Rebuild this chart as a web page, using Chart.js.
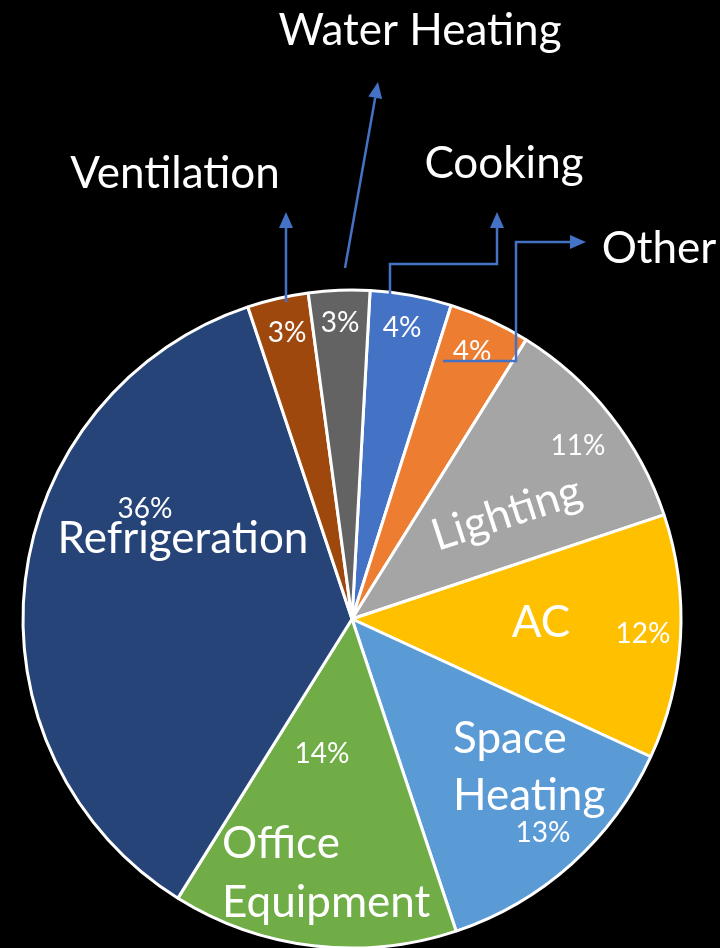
<!DOCTYPE html>
<html>
<head>
<meta charset="utf-8">
<script src="https://cdn.jsdelivr.net/npm/chart.js@4.4.1/dist/chart.umd.min.js"></script>
<style>
  html, body { margin: 0; padding: 0; background: #000; }
  canvas { display: block; }
</style>
</head>
<body>
<canvas id="c" width="720" height="948"></canvas>
<script>
// Data (clockwise from just right of 12 o'clock)
const categories = ["Cooking", "Other", "Lighting", "AC", "Space Heating", "Office Equipment", "Refrigeration", "Ventilation", "Water Heating"];
const shares = [4, 4, 11, 12, 13, 14, 36, 3, 3];
const percentLabels = ["4%", "4%", "11%", "12%", "13%", "14%", "36%", "3%", "3%"];
const sliceColors = ["#4472C4", "#ED7D31", "#A5A5A5", "#FFC000", "#5B9BD5", "#70AD47", "#264478", "#9E480E", "#636363"];

const FONT = "Lato, 'Open Sans', sans-serif";
const BIG = 44, SMALL = 28;
const ARROW = "#4472C4";

const texts = [
  {t: "Water Heating", x: 420, y: 45, s: BIG, a: "center"},
  {t: "Ventilation", x: 175, y: 188, s: BIG, a: "center"},
  {t: "Cooking", x: 504, y: 178, s: BIG, a: "center"},
  {t: "Other", x: 659, y: 263, s: BIG, a: "center"},
  {t: "Refrigeration", x: 183, y: 553, s: BIG, a: "center"},
  {t: "AC", x: 541, y: 637, s: BIG, a: "center"},
  {t: "Space", x: 453, y: 753, s: BIG, a: "left"},
  {t: "Heating", x: 453, y: 810, s: BIG, a: "left"},
  {t: "Office", x: 222, y: 858, s: BIG, a: "left"},
  {t: "Equipment", x: 222, y: 917, s: BIG, a: "left"},
  {t: "Lighting", x: 511, y: 527, s: BIG, a: "center", rot: -18},
];
const pctPos = [[402, 337], [472, 361], [578, 455], [643, 643], [543, 842], [322, 763], [145, 518], [287, 342], [340, 332]];

const arrows = [
  [[286, 302], [286, 212]],
  [[345, 268], [378, 82]],
  [[390, 295], [390, 264], [497, 264], [497, 212]],
  [[443, 361], [516, 361], [516, 242], [586, 242]],
];

const bgPlugin = {
  id: 'bg',
  beforeDraw(chart) {
    const ctx = chart.ctx;
    ctx.save();
    ctx.fillStyle = '#000';
    ctx.fillRect(0, 0, chart.width, chart.height);
    ctx.restore();
  }
};

const labelPlugin = {
  id: 'labels',
  afterDatasetsDraw(chart) {
    const ctx = chart.ctx;
    ctx.save();
    ctx.fillStyle = '#fff';
    ctx.textBaseline = 'alphabetic';
    ctx.font = SMALL + "px " + FONT;
    ctx.textAlign = 'center';
    percentLabels.forEach((p, i) => {
      ctx.fillText(p, pctPos[i][0], pctPos[i][1]);
    });
    texts.forEach(o => {
      ctx.font = o.s + "px " + FONT;
      ctx.textAlign = o.a;
      if (o.rot) {
        ctx.save();
        ctx.translate(o.x, o.y);
        ctx.rotate(o.rot * Math.PI / 180);
        ctx.fillText(o.t, 0, 0);
        ctx.restore();
      } else {
        ctx.fillText(o.t, o.x, o.y);
      }
    });
    ctx.strokeStyle = ARROW;
    ctx.fillStyle = ARROW;
    ctx.lineWidth = 2.5;
    ctx.lineJoin = 'miter';
    arrows.forEach(pts => {
      const n = pts.length;
      const [tx, ty] = pts[n - 1];
      const [px, py] = pts[n - 2];
      const ang = Math.atan2(ty - py, tx - px);
      const L = 16, W = 7;
      const bx = tx - L * Math.cos(ang), by = ty - L * Math.sin(ang);
      ctx.beginPath();
      ctx.moveTo(pts[0][0], pts[0][1]);
      for (let i = 1; i < n - 1; i++) ctx.lineTo(pts[i][0], pts[i][1]);
      ctx.lineTo(bx, by);
      ctx.stroke();
      ctx.beginPath();
      ctx.moveTo(tx, ty);
      ctx.lineTo(bx + W * Math.sin(ang), by - W * Math.cos(ang));
      ctx.lineTo(bx - W * Math.sin(ang), by + W * Math.cos(ang));
      ctx.closePath();
      ctx.fill();
    });
    ctx.restore();
  }
};

new Chart(document.getElementById('c'), {
  type: 'pie',
  data: {
    labels: categories,
    datasets: [{
      data: shares,
      backgroundColor: sliceColors,
      borderColor: '#ffffff',
      borderWidth: 3
    }]
  },
  options: {
    responsive: false,
    devicePixelRatio: 1,
    animation: false,
    rotation: 3.15,
    radius: 329,
    layout: { padding: { left: 0, right: 16, top: 290, bottom: 0 } },
    plugins: {
      legend: { display: false },
      tooltip: { enabled: false }
    }
  },
  plugins: [bgPlugin, labelPlugin]
});
</script>
</body>
</html>
